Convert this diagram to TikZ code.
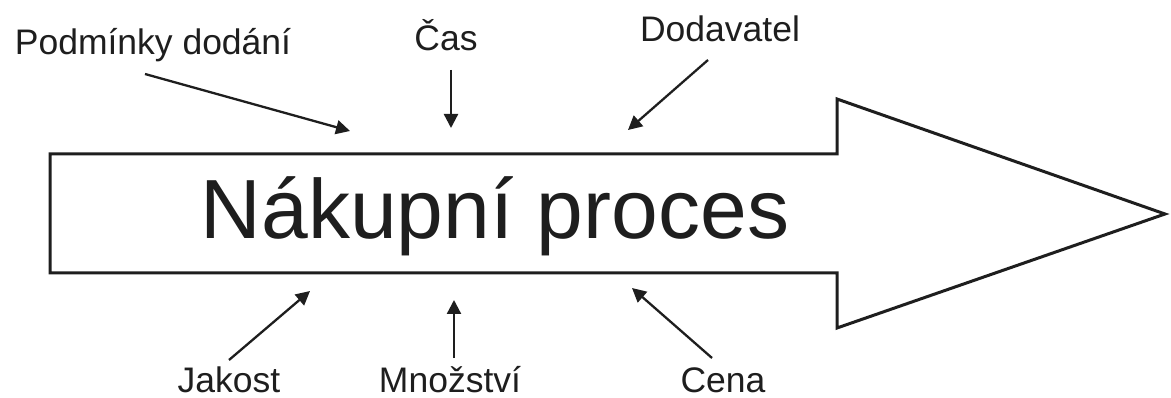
\documentclass[tikz,border=0pt]{standalone}
\usepackage{fontspec}
\setmainfont{Liberation Sans}
\usetikzlibrary{arrows.meta}
\definecolor{ink}{RGB}{30,30,30}
\begin{document}
\begin{tikzpicture}[x=1pt,y=-1pt,
  lbl/.style={font=\fontsize{35.5}{40}\selectfont, anchor=base, inner sep=0pt, text=ink, text depth=0pt},
  title/.style={font=\fontsize{84}{90}\selectfont, anchor=base, inner sep=0pt, text=ink},
  infl/.style={line width=2.3pt, draw=ink, -{Triangle[length=14pt,width=14pt]}},
  bigarrow/.style={line width=3pt, draw=ink, line join=miter}]
\useasboundingbox (0,0) rectangle (1171,398);
\draw[bigarrow] (50,154) -- (837,154) -- (837,99) -- (1165,214) -- (837,328) -- (837,273) -- (50,273) -- cycle;
\node[title] (main) at (495,239) {Nákupní proces};
\node[lbl] (pod) at (153,55) {Podmínky dodání};
\node[lbl] (cas) at (446,51) {Čas};
\node[lbl] (dod) at (720,42) {Dodavatel};
\node[lbl] (jak) at (229,392) {Jakost};
\node[lbl] (mno) at (450,392) {Množství};
\node[lbl] (cen) at (723,392) {Cena};
\coordinate (pods) at (145,74);  \coordinate (pode) at (350,131);
\coordinate (cass) at (451,70);  \coordinate (case) at (451,128);
\coordinate (dods) at (708,60);  \coordinate (dode) at (628,130);
\coordinate (jaks) at (229,360); \coordinate (jake) at (310,291);
\coordinate (mnos) at (454,358); \coordinate (mnoe) at (454,300);
\coordinate (cens) at (712,358); \coordinate (cene) at (632,288);
\draw[infl] (pods) -- (pode);
\draw[infl] (cass) -- (case);
\draw[infl] (dods) -- (dode);
\draw[infl] (jaks) -- (jake);
\draw[infl] (mnos) -- (mnoe);
\draw[infl] (cens) -- (cene);
\end{tikzpicture}
\end{document}
